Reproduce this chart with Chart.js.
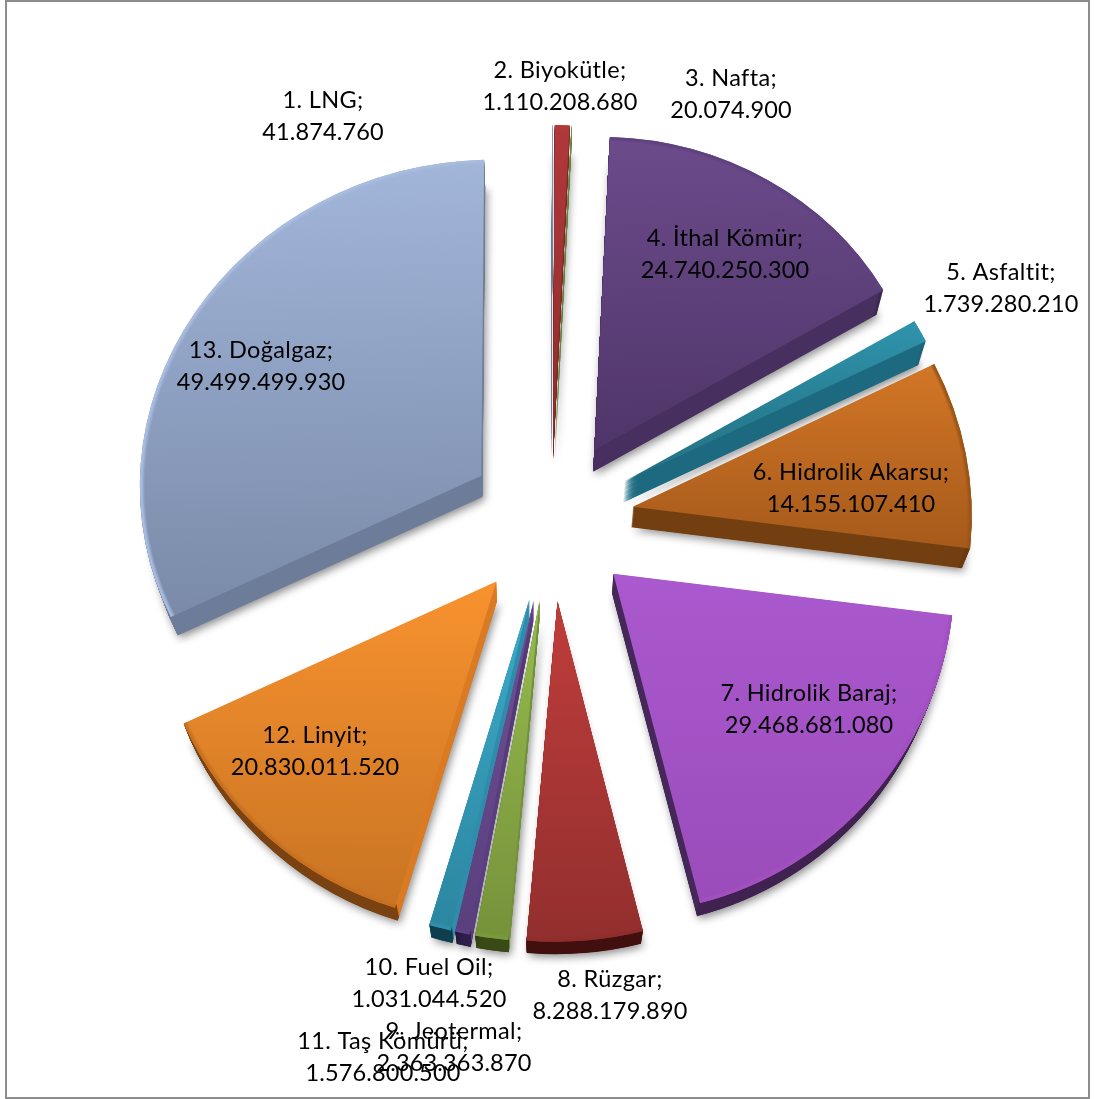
<!DOCTYPE html>
<html><head><meta charset="utf-8">
<style>
html,body{margin:0;padding:0;background:#fff;width:1094px;height:1099px;overflow:hidden}
#wrap{position:relative;width:1094px;height:1099px}
#frame{position:absolute;left:5px;top:0;width:1081px;height:1095px;border:2px solid #8c8c8c;pointer-events:none}
canvas{position:absolute;left:0;top:0}
</style>
<script src="https://cdn.jsdelivr.net/npm/chart.js@4"></script>
</head><body>
<div id="wrap"><canvas id="c" width="1094" height="1099"></canvas><div id="frame"></div></div>
<script>
const categories = ["1. LNG","2. Biyokütle","3. Nafta","4. İthal Kömür","5. Asfaltit","6. Hidrolik Akarsu","7. Hidrolik Baraj","8. Rüzgar","9. Jeotermal","10. Fuel Oil","11. Taş Kömürü","12. Linyit","13. Doğalgaz"];
const values = [41874760,1110208680,20074900,24740250300,1739280210,14155107410,29468681080,8288179890,2363363870,1031044520,1576800500,20830011520,49499499930];
const baseColors = ["#9db3d9","#b23a38","#8eb04a","#6a4a8c","#2f93ad","#c86f24","#a858cc","#b53b39","#92b54c","#6b4c90","#38a5c4","#f6902f","#9db3d9"];
const faceTop    = ["#a2b6da","#b0383a","#8fb24a","#6c4b8b","#2f93ad","#d27626","#aa59ce","#bf3d3b","#96bb4e","#6f4f96","#3cabcb","#f8922f","#a2b6da"];
const faceBottom = ["#8da0bf","#8f2d2c","#779438","#4f3569","#22707f","#a65a1b","#9a4cba","#922f2e","#76923a","#5a3f7d","#2c86a0","#c87423","#7a8aa8"];
const sideColors = ["#6d7c99","#7f2826","#64803a","#47305f","#1d6a80","#743f10","#46275a","#8d2c2a","#72913a","#5a3f80","#2f8cab","#da7a22","#6d7c99"];
const rimColors  = ["#55617a","#4a1614","#4a5f22","#3c2850","#1d6478","#6c380d","#3f2250","#420f0f","#3a4a16","#2d1f4a","#0f3f4e","#7a4210","#6d7c99"];
const edgeColors = ["#a8bce0","#b23a38","#8eb04a","#5f4180","#2f93ad","#9a5518","#a24fc0","#8f2d2c","#7a9a3c","#5f4288","#2f90ad","#c87020","#a8bce0"];
const labelX = [323,560,731,725,1001,851,809,610,454,429,383,315,261];
const labelY = [100,70,78,238,272,472,693,979,1031,967,1041,735,350];

const PIE_X = 551, PIE_Y = 520, RADIUS = 339, EXPLODE = 83;
const VANISH_X = 540, VANISH_Y = 1594, DEPTH = 0.019, STEPS = 40;
const LINE_H = 32.5, FAN = 7.5e-5, FAN_CENTRE = 40, TOP_SQUASH = 1.58e-4;

function fmt(n){ return String(n).replace(/\B(?=(\d{3})+$)/g, "."); }

// plane coordinates (u right, w down, around the pie centre) to the page offset
function project(u, w) {
  const dy = w < 0 ? w + TOP_SQUASH * w * w : w - 3 * Math.sin(Math.PI * Math.min(w, 400) / 400);
  return [u + (u - FAN_CENTRE) * FAN * w, dy];
}

const piePerspective = {
  id: "piePerspective",
  beforeDatasetDraw(chart, args) {
    const ctx = chart.ctx;
    const arcs = chart.getDatasetMeta(args.index).data;
    const place = (el) => {
      const R = el.outerRadius;
      const s0 = el.startAngle + Math.PI / 2, s1 = el.endAngle + Math.PI / 2;
      const mid = (s0 + s1) / 2;
      const half = Math.max((s1 - s0) / 2, Math.PI / 9);
      const a0 = mid - half, a1 = mid + half;
      const au = EXPLODE * Math.sin(mid), aw = -EXPLODE * Math.cos(mid);
      const e1 = [R * Math.sin(a0), -R * Math.cos(a0)], e2 = [R * Math.sin(a1), -R * Math.cos(a1)];
      const p0 = project(au, aw);
      const p1 = project(au + e1[0], aw + e1[1]), p2 = project(au + e2[0], aw + e2[1]);
      const d1 = [p1[0] - p0[0], p1[1] - p0[1]], d2 = [p2[0] - p0[0], p2[1] - p0[1]];
      const det = e1[0] * e2[1] - e2[0] * e1[1];
      const a = (d1[0] * e2[1] - d2[0] * e1[1]) / det;
      const c = (d2[0] * e1[0] - d1[0] * e2[0]) / det;
      const b = (d1[1] * e2[1] - d2[1] * e1[1]) / det;
      const d = (d2[1] * e1[0] - d1[1] * e2[0]) / det;
      ctx.translate(el.x + p0[0], el.y + p0[1]);
      ctx.transform(a, b, c, d, 0, 0);
      ctx.translate(-el.x, -el.y);
    };
    const paint = (el, fill) => {
      const saved = el.options;
      el.options = Object.assign({}, saved, {backgroundColor: fill});
      el.draw(ctx);
      el.options = saved;
    };
    // walls
    arcs.forEach((el, i) => {
      const R = el.outerRadius;
      for (let s = STEPS; s >= 1; s--) {
        const k = DEPTH * s / STEPS;
        ctx.save();
        if (s === STEPS) {
          ctx.shadowColor = "rgba(0,0,0,0.45)";
          ctx.shadowBlur = 8;
          ctx.shadowOffsetX = 2;
          ctx.shadowOffsetY = 3;
        }
        ctx.translate(VANISH_X, VANISH_Y);
        ctx.scale(1 - k, 1 - k);
        ctx.translate(-VANISH_X, -VANISH_Y);
        place(el);
        const g = ctx.createRadialGradient(el.x, el.y, 0, el.x, el.y, R);
        g.addColorStop(0, sideColors[i]);
        g.addColorStop(0.985, sideColors[i]);
        g.addColorStop(0.99, rimColors[i]);
        g.addColorStop(1, rimColors[i]);
        paint(el, g);
        ctx.restore();
      }
    });
    // top faces
    arcs.forEach((el, i) => {
      const R = el.outerRadius;
      const a0 = el.startAngle + Math.PI / 2, a1 = el.endAngle + Math.PI / 2;
      let maxC = Math.max(0, Math.cos(a0), Math.cos(a1));
      let minC = Math.min(0, Math.cos(a0), Math.cos(a1));
      if (a0 < Math.PI && a1 > Math.PI) minC = -1;
      ctx.save();
      place(el);
      const g = ctx.createLinearGradient(0, el.y - R * maxC, 0, el.y - R * minC);
      g.addColorStop(0, faceTop[i]);
      g.addColorStop(1, faceBottom[i]);
      paint(el, g);
      const e = ctx.createRadialGradient(el.x, el.y, 0, el.x, el.y, R);
      e.addColorStop(0, edgeColors[i] + "00");
      e.addColorStop(0.985, edgeColors[i] + "00");
      e.addColorStop(0.995, edgeColors[i] + "ff");
      e.addColorStop(1, edgeColors[i] + "ff");
      paint(el, e);
      ctx.restore();
    });
    return false;
  },
  afterDraw(chart) {
    const ctx = chart.ctx;
    ctx.save();
    ctx.fillStyle = "#000";
    ctx.font = '23.5px Lato';
    ctx.textAlign = "center";
    ctx.textBaseline = "middle";
    categories.forEach((c, i) => {
      ctx.letterSpacing = "0.35px";
      ctx.fillText(c + ";", labelX[i], labelY[i]);
      ctx.letterSpacing = "0.15px";
      ctx.fillText(fmt(values[i]), labelX[i], labelY[i] + LINE_H);
    });
    ctx.restore();
  }
};

new Chart(document.getElementById("c"), {
  type: "pie",
  data: { labels: categories, datasets: [{ data: values, backgroundColor: baseColors, borderWidth: 0, radius: RADIUS }] },
  options: {
    responsive: false,
    animation: false,
    devicePixelRatio: 1,
    rotation: 0,
    layout: { padding: { left: 2 * PIE_X - 1094, right: 0, top: 0, bottom: 1099 - 2 * PIE_Y } },
    plugins: { legend: { display: false }, tooltip: { enabled: false }, title: { display: false } }
  },
  plugins: [piePerspective]
});
</script>
</body></html>
